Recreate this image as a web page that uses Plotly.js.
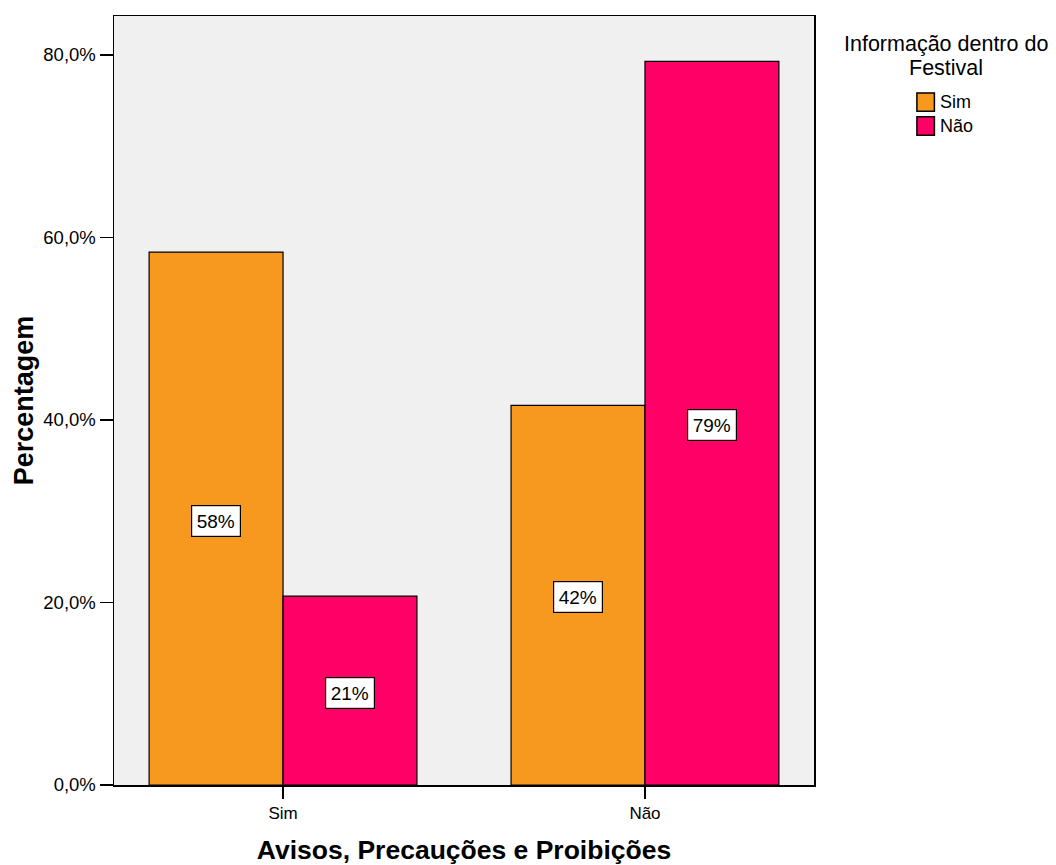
<!DOCTYPE html>
<html><head><meta charset="utf-8">
<script src="https://cdn.plot.ly/plotly-3.0.1.min.js"></script>
<style>html,body{margin:0;padding:0;background:#fff}</style>
</head><body>
<div id="chart" style="width:1056px;height:865px"></div>
<script>
const categories = ["Sim", "Não"];
const seriesNames = ["Sim", "Não"];
const valuesSim = [58.4, 41.6];
const valuesNao = [20.7, 79.3];
const seriesColors = ["#F7991E", "#FF0066"];
const yTickVals = [0, 20, 40, 60, 80];
const yTickLabels = ["0,0%", "20,0%", "40,0%", "60,0%", "80,0%"];
const legendTitleLines = ["Informação dentro do", "Festival"];
const xTitle = "Avisos, Precauções e Proibições";
const yTitle = "Percentagem";

const FONT = "Arial, 'Liberation Sans', sans-serif";
const series = [valuesSim, valuesNao];
const traces = series.map((vals, k) => ({
  type: "bar", x: categories, y: vals, name: seriesNames[k],
  marker: {color: seriesColors[k], line: {color: "#000", width: 1.2}},
  showlegend: false, hoverinfo: "x+y+name"
}));

const bargap = 0.26;
const barW = (1 - bargap) / series.length;
const annotations = [];
series.forEach((vals, k) => {
  vals.forEach((v, i) => {
    annotations.push({
      x: i + (k - (series.length - 1) / 2) * barW, y: v / 2,
      xref: "x", yref: "y", yshift: -2, text: Math.round(v) + "%", showarrow: false,
      font: {family: FONT, size: 19, color: "#000"},
      bgcolor: "#fff", bordercolor: "#000", borderwidth: 1.2, borderpad: 4.5
    });
  });
});
// legend built manually
const shapes = [];
const lgX0 = 1.147, lgW = 0.025;
const lgRows = [[0.876, 0.900], [0.845, 0.869]];
seriesNames.forEach((n, k) => {
  shapes.push({type: "rect", xref: "paper", yref: "paper",
    x0: lgX0, x1: lgX0 + lgW, y0: lgRows[k][0], y1: lgRows[k][1],
    fillcolor: seriesColors[k], line: {color: "#000", width: 1.5}});
  annotations.push({xref: "paper", yref: "paper", x: lgX0 + lgW + 0.005,
    y: (lgRows[k][0] + lgRows[k][1]) / 2, xanchor: "left", yanchor: "middle",
    text: n, showarrow: false, font: {family: FONT, size: 18, color: "#000"}});
});
const ltY = [0.9636, 0.9324];
legendTitleLines.forEach((t, j) => {
  annotations.push({xref: "paper", yref: "paper", x: 1.1886, y: ltY[j],
    xanchor: "center", yanchor: "middle", text: t, showarrow: false,
    borderpad: 0, font: {family: FONT, size: 21.5, color: "#000"}});
});

const layout = {
  width: 1056, height: 865,
  margin: {l: 114, r: 242, t: 16, b: 80, pad: 0},
  paper_bgcolor: "#fff", plot_bgcolor: "#F0F0F0",
  barmode: "group", bargap: bargap, bargroupgap: 0,
  showlegend: false,
  font: {family: FONT, color: "#000"},
  xaxis: {
    type: "category", range: [-0.467, 1.467],
    showline: true, linecolor: "#000", linewidth: 1.5, mirror: true,
    ticks: "outside", ticklen: 12, tickwidth: 1.5, tickcolor: "#000",
    showgrid: false, zeroline: false,
    tickfont: {family: FONT, size: 17, color: "#000"},
    title: {text: xTitle, font: {family: FONT, size: 26.5, color: "#000", weight: "bold"}, standoff: 18}
  },
  yaxis: {
    range: [0, 84.27], tickmode: "array", tickvals: yTickVals, ticktext: yTickLabels,
    showline: true, linecolor: "#000", linewidth: 1.5, mirror: true,
    ticks: "outside", ticklen: 13, tickwidth: 1.5, tickcolor: "#000",
    showgrid: false, zeroline: false,
    tickfont: {family: FONT, size: 18.5, color: "#000"},
    title: {text: yTitle, font: {family: FONT, size: 27, color: "#000", weight: "bold"}, standoff: 2}
  },
  annotations: annotations, shapes: shapes
};
Plotly.newPlot("chart", traces, layout, {displayModeBar: false, staticPlot: true});
</script>
</body></html>
